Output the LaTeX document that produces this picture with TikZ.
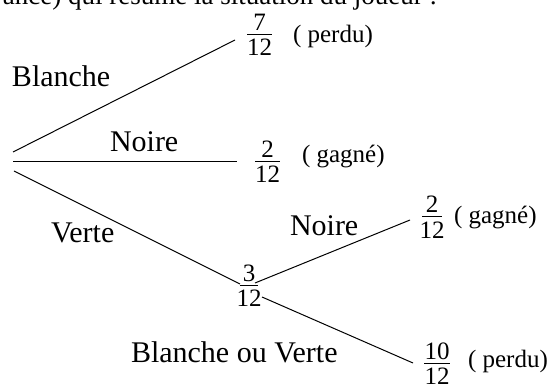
\documentclass[tikz,border=0pt]{standalone}
\usepackage{fontspec}
\setmainfont{Liberation Serif}
\newcommand{\fracat}[6]{% name, x, bar y, numerator, denominator, half width
  \coordinate (#1) at (#2,#3);
  \node[fdig, anchor=base] (#1-n) at ({#2},{#3-4}) {#4};
  \node[fdig, anchor=base] (#1-d) at ({#2},{#3+21}) {#5};
  \draw[fracbar] ({#2-#6},#3) -- ({#2+#6},#3);
}
\begin{document}
\begin{tikzpicture}[x=1pt,y=-1pt,
  lbl/.style={font=\fontsize{30}{36}\selectfont, inner sep=0pt, outer sep=0pt},
  fdig/.style={font=\fontsize{25}{30}\selectfont, inner sep=0pt, outer sep=0pt},
  res/.style={font=\fontsize{25}{30}\selectfont, inner sep=0pt, outer sep=0pt},
  toptext/.style={font=\fontsize{27}{32}\selectfont, inner sep=0pt, outer sep=0pt},
  branch/.style={line width=1pt},
  fracbar/.style={line width=1pt}]
\useasboundingbox (0,0) rectangle (554,390);
\clip (0,0) rectangle (554,390);
\fill[white] (0,0) rectangle (554,390);

% cut-off sentence at the top
\node[toptext, anchor=base east] (top) at (437,5) {ance) qui résume la situation du joueur :};

% fractions
\fracat{f1}{259.5}{35}{7}{12}{12.5}
\fracat{f2}{267.5}{162}{2}{12}{12.5}
\fracat{f3}{249}{285}{3}{12}{9}
\fracat{f4}{432}{217}{2}{12}{10}
\fracat{f5}{437}{363}{10}{12}{13}

% results
\node[res, anchor=base west] (r1) at (293,43) {( perdu)};
\node[res, anchor=base west] (r2) at (302,163) {( gagné)};
\node[res, anchor=base west] (r4) at (454,223) {( gagné)};
\node[res, anchor=base west] (r5) at (468,367) {( perdu)};

% branch labels
\node[lbl, anchor=base west] (lb) at (12,87) {Blanche};
\node[lbl, anchor=base west] (ln) at (110,152) {Noire};
\node[lbl, anchor=base west] (lv) at (51,243) {Verte};
\node[lbl, anchor=base west] (ln2) at (290,235) {Noire};
\node[lbl, anchor=base west] (lbv) at (131,362) {Blanche ou Verte};

% branch end points
\coordinate (b1s) at (13,152);  \coordinate (b1e) at (235,40);
\coordinate (n1s) at (13,162);  \coordinate (n1e) at (237,162);
\coordinate (v1s) at (14,171);  \coordinate (v1e) at (240,284);
\coordinate (n2s) at (255,283); \coordinate (n2e) at (410,220);
\coordinate (w2s) at (262,297); \coordinate (w2e) at (413,363);

\draw[branch] (b1s) -- (b1e);
\draw[branch] (n1s) -- (n1e);
\draw[branch] (v1s) -- (v1e);
\draw[branch] (n2s) -- (n2e);
\draw[branch] (w2s) -- (w2e);
\end{tikzpicture}
\end{document}
